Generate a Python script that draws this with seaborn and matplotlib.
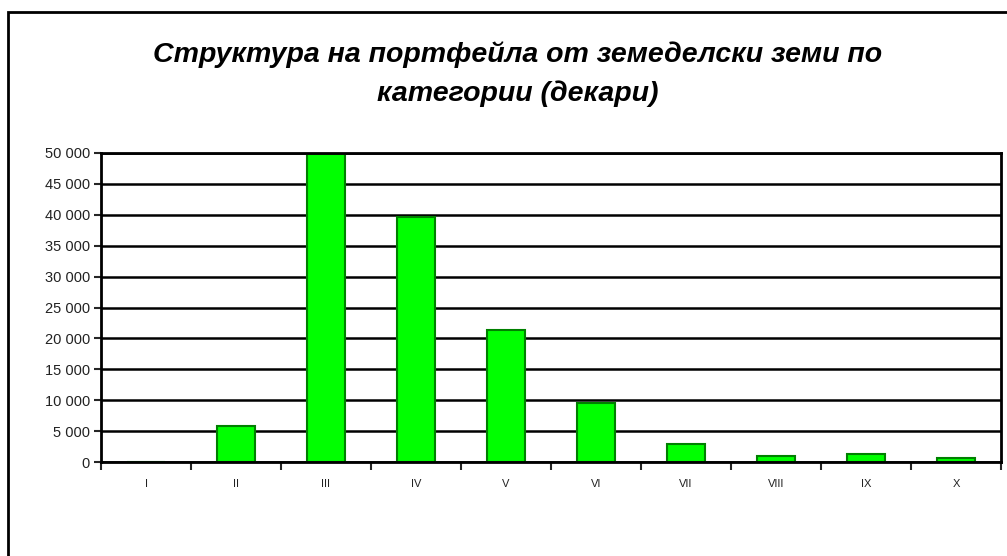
import matplotlib
matplotlib.use("Agg")
import matplotlib.pyplot as plt
import matplotlib.patches as mpatches
import seaborn as sns
import numpy as np
import pandas as pd

# data
categories = ["I", "II", "III", "IV", "V", "VI", "VII", "VIII", "IX", "X"]
decares = [0, 5800, 49800, 39600, 21300, 9500, 2850, 900, 1250, 600]
y_ticks = list(range(0, 50001, 5000))
title = "Структура на портфейла от земеделски земи по\nкатегории (декари)"

sns.set_style("white")
plt.rcParams["font.family"] = ["Liberation Sans", "DejaVu Sans"]

df = pd.DataFrame({"category": categories, "decares": decares})

fig = plt.figure(figsize=(10.07, 5.56), dpi=100)
ax = fig.add_axes([101 / 1007, 1 - 462 / 556, 900 / 1007, 309 / 556])

sns.barplot(data=df, x="category", y="decares", color="#00FF00",
            edgecolor="#008000", linewidth=1.5, width=0.43, saturation=1, ax=ax)

ax.set_ylim(0, 50000)
ax.set_xlim(-0.5, len(categories) - 0.5)
ax.set_yticks(y_ticks)
ax.set_yticklabels([f"{v:,}".replace(",", " ") for v in y_ticks], fontsize=10.5, color="#222222")
ax.tick_params(axis="x", length=0, labelsize=8, pad=12, colors="#222222")
ax.tick_params(axis="y", length=5, width=1.5, direction="out", left=True, pad=3)
ax.set_xticks(np.arange(-0.5, len(categories)), minor=True)
ax.tick_params(axis="x", which="minor", length=6, width=1.5, bottom=True, direction="out")
ax.set_axisbelow(True)
ax.yaxis.grid(True, color="black", linewidth=1.8)
ax.xaxis.grid(False)
ax.set_xlabel("")
ax.set_ylabel("")
for s in ax.spines.values():
    s.set_color("black")
    s.set_linewidth(2)
    s.set_visible(True)

# outer chart frame (cut off by the image on the right and bottom)
fig.patches.append(mpatches.Rectangle((8 / 1007, -0.2), 1.2, 1 - 12 / 556 + 0.2,
                                      transform=fig.transFigure, fill=False,
                                      edgecolor="black", linewidth=2))

fig.text(518 / 1007, 1 - 74 / 556, title, ha="center", va="center", color="black",
         fontsize=20.5, fontweight="bold", fontstyle="italic", linespacing=1.6)

fig.savefig("out.png", dpi=100)
